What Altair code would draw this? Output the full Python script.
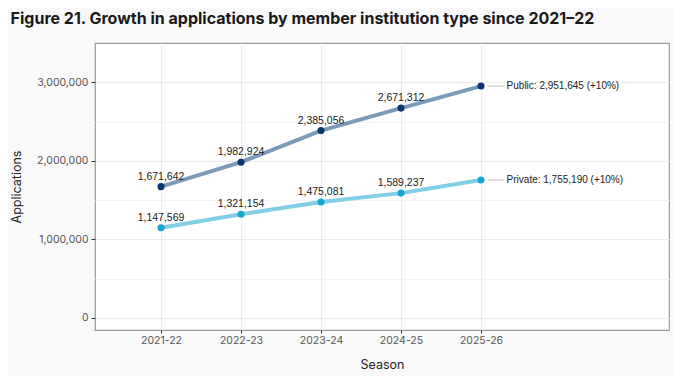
import altair as alt
import pandas as pd

seasons = ["2021-22", "2022-23", "2023-24", "2024-25", "2025-26"]
public_vals = [1671642, 1982924, 2385056, 2671312, 2951645]
private_vals = [1147569, 1321154, 1475081, 1589237, 1755190]
types = ["Public", "Private"]
end_labels = ["Public: 2,951,645 (+10%)", "Private: 1,755,190 (+10%)"]
line_colors = ["#7b9bbb", "#80cfe6"]
point_colors = ["#0b3570", "#17a5d4"]

rows = []
for t, vals in zip(types, [public_vals, private_vals]):
    for i, (s, v) in enumerate(zip(seasons, vals)):
        rows.append({"idx": i, "season": s, "value": v, "type": t,
                     "label": f"{v:,}" if i < len(seasons) - 1 else ""})
df = pd.DataFrame(rows)

last = len(seasons) - 1
end_df = pd.DataFrame({
    "type": types,
    "x0": [last + 0.08] * 2,
    "x1": [last + 0.29] * 2,
    "xt": [last + 0.32] * 2,
    "value": [public_vals[-1], private_vals[-1]],
    "text": end_labels,
})

label_expr = "[" + ",".join(f"'{s}'" for s in seasons) + "][datum.value]"

x_scale = alt.Scale(domain=[-0.825, 6.35], nice=False, zero=False)
y_scale = alt.Scale(domain=[-153000, 3500000], nice=False, zero=False)
color_line = alt.Color("type:N", scale=alt.Scale(domain=types, range=line_colors), legend=None)
color_point = alt.Color("type:N", scale=alt.Scale(domain=types, range=point_colors), legend=None)

x_enc = alt.X("idx:Q", scale=x_scale, title="Season",
              axis=alt.Axis(values=list(range(len(seasons))), labelExpr=label_expr,
                            grid=True, gridColor="#ebebeb", domain=False,
                            tickColor="#333333", tickSize=3, labelColor="#555555",
                            labelFont="Inter", labelFontSize=10.5, labelPadding=2,
                            titleFont="Inter", titleFontSize=12.5, titleFontWeight="normal",
                            titleColor="#222222", titlePadding=13))
y_enc = alt.Y("value:Q", scale=y_scale, title="Applications",
              axis=alt.Axis(values=[0, 500000, 1000000, 1500000, 2000000, 2500000, 3000000],
                            labelExpr="datum.value % 1000000 == 0 ? format(datum.value, ',') : ''",
                            grid=True,
                            gridColor={"condition": {"test": "datum.value % 1000000 != 0", "value": "#f4f4f4"}, "value": "#ebebeb"},
                            tickOpacity={"condition": {"test": "datum.value % 1000000 != 0", "value": 0}, "value": 1},
                            domain=False, tickColor="#333333", tickSize=4,
                            labelColor="#555555", labelFont="Inter", labelFontSize=10.5, labelPadding=3,
                            titleFont="Inter", titleFontSize=12.5, titleFontWeight="normal",
                            titleColor="#222222", titlePadding=13))

base = alt.Chart(df)
lines = base.mark_line(strokeWidth=4, opacity=1).encode(x=x_enc, y=y_enc, color=color_line, detail="type:N")
points = base.mark_circle(size=50, opacity=1).encode(x="idx:Q", y="value:Q", color=color_point)
labels = base.mark_text(dy=-10, font="Liberation Sans", fontSize=10.5, color="#222222").encode(
    x="idx:Q", y="value:Q", text="label:N")

conn = alt.Chart(end_df).mark_rule(color="#bbbbbb", strokeWidth=1).encode(
    x="x0:Q", x2="x1:Q", y="value:Q")
end_text = alt.Chart(end_df).mark_text(align="left", baseline="middle", font="Liberation Sans",
                                       fontSize=10, color="#222222").encode(
    x="xt:Q", y="value:Q", text="text:N")

chart = alt.layer(lines, points, labels, conn, end_text).resolve_scale(color="independent").properties(
    width=574, height=287,
    background="#f9f9f9",
    padding={"left": 2, "top": 3, "right": 5, "bottom": 5},
    title=alt.TitleParams("Figure 21. Growth in applications by member institution type since 2021\u201322",
                          anchor="start", frame="bounds", font="Inter", fontSize=16,
                          fontWeight="bold", color="#1a1a1a", offset=16),
).configure_view(stroke="#9a9a9a", strokeWidth=1.2, fill="white")

chart.save("out.html", embed_options={"renderer": "svg", "actions": False})
